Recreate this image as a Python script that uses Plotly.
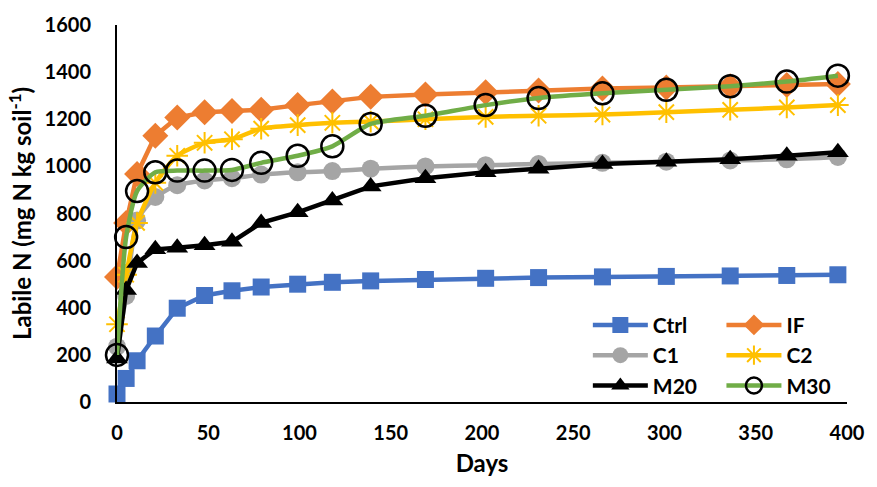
import plotly.graph_objects as go

days = [0, 5, 11, 21, 33, 48, 63, 79, 99, 118, 139, 169, 202, 231, 266, 301, 336, 367, 395]

ctrl = [34, 100, 175, 280, 398, 452, 472, 488, 500, 508, 514, 520, 525, 528, 531, 533, 535, 537, 540]
if_ = [530, 760, 968, 1130, 1207, 1230, 1235, 1240, 1260, 1275, 1295, 1305, 1315, 1322, 1330, 1335, 1340, 1345, 1350]
c1 = [235, 450, 770, 870, 920, 940, 950, 965, 975, 980, 990, 1000, 1005, 1010, 1015, 1020, 1025, 1030, 1040]
c2 = [330, 540, 760, 930, 1045, 1100, 1115, 1160, 1175, 1185, 1190, 1200, 1210, 1215, 1220, 1230, 1240, 1250, 1260]
m20 = [185, 475, 590, 648, 655, 665, 680, 760, 805, 855, 915, 950, 975, 990, 1010, 1020, 1030, 1045, 1060]
m30 = [200, 700, 895, 975, 982, 982, 985, 1015, 1045, 1085, 1180, 1215, 1260, 1290, 1310, 1325, 1340, 1360, 1385]

names = ["Ctrl", "IF", "C1", "C2", "M20", "M30"]
series = [ctrl, if_, c1, c2, m20, m30]
legend_col = {"Ctrl": "legend", "C1": "legend", "M20": "legend",
              "IF": "legend2", "C2": "legend2", "M30": "legend2"}

styles = {
    "Ctrl": dict(line=dict(color="#4472C4", width=4.5), marker=dict(symbol="square", size=17, color="#4472C4"), shape="linear"),
    "IF": dict(line=dict(color="#ED7D31", width=4.5), marker=dict(symbol="diamond", size=20, color="#ED7D31"), shape="linear"),
    "C1": dict(line=dict(color="#A5A5A5", width=4.5), marker=dict(symbol="circle", size=18, color="#A5A5A5"), shape="spline"),
    "C2": dict(line=dict(color="#FFC000", width=4.5), marker=dict(symbol="asterisk-open", size=18, color="#FFC000", line=dict(color="#FFC000", width=2)), shape="spline"),
    "M20": dict(line=dict(color="#000000", width=4.5), marker=dict(symbol="triangle-up", size=19, color="#000000"), shape="linear"),
    "M30": dict(line=dict(color="#70AD47", width=4.5), marker=dict(symbol="circle-open", size=22, color="#000000", line=dict(color="#000000", width=2.5)), shape="spline"),
}

fig = go.Figure()
for n, s in zip(names, series):
    st = styles[n]
    ln = dict(st["line"])
    ln["shape"] = st["shape"]
    if st["shape"] == "spline":
        ln["smoothing"] = 0.6
    fig.add_trace(go.Scatter(x=days, y=s, name=n, mode="lines+markers",
                             line=ln, marker=st["marker"], cliponaxis=False,
                             legend=legend_col[n]))

font_family = "Lato, 'Open Sans', sans-serif"
tick_fs = 20
title_fs = 24
leg_common = dict(orientation="v", xanchor="left", yanchor="top", itemwidth=55,
                  font=dict(size=21, family=font_family, color="black", weight="bold"),
                  bgcolor="rgba(0,0,0,0)", tracegroupgap=0)
fig.update_layout(
    width=877, height=487,
    margin=dict(l=117, r=27, t=25, b=85),
    plot_bgcolor="white", paper_bgcolor="white",
    font=dict(family=font_family, size=tick_fs, color="black"),
    showlegend=True,
    legend=dict(x=0.645, y=0.258, **leg_common),
    legend2=dict(x=0.828, y=0.258, **leg_common),
)
fig.update_xaxes(range=[0, 400], tickvals=[0, 50, 100, 150, 200, 250, 300, 350, 400],
                 showgrid=False, zeroline=False, showline=True, linecolor="black", linewidth=2,
                 ticks="", ticklabelstandoff=12, tickfont=dict(size=tick_fs, weight="bold"),
                 title=dict(text="<b>Days</b>", font=dict(size=title_fs), standoff=12))
fig.update_yaxes(range=[0, 1600], dtick=200,
                 showgrid=False, zeroline=False, showline=True, linecolor="black", linewidth=2,
                 ticks="", ticklabelstandoff=20, tickfont=dict(size=tick_fs, weight="bold"),
                 title=dict(text="<b>Labile N (mg N kg soil<sup>-1</sup>)</b>", font=dict(size=title_fs), standoff=6))

fig.write_html("out.html")
